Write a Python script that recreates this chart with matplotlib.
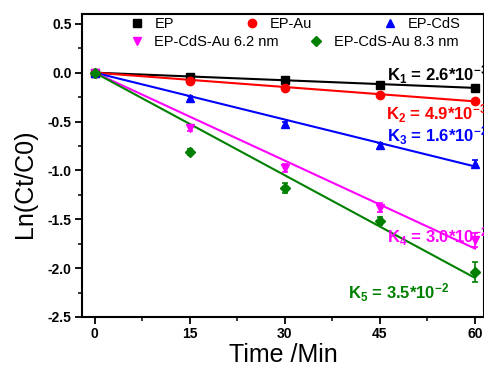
import matplotlib
matplotlib.use('Agg')
import matplotlib.pyplot as plt
from matplotlib.ticker import MultipleLocator

plt.rcParams['font.family'] = ['Liberation Sans', 'DejaVu Sans']
plt.rcParams['mathtext.default'] = 'regular'
plt.rcParams['axes.unicode_minus'] = False

# data
t = [0, 15, 30, 45, 60]
names = ['EP', 'EP-Au', 'EP-CdS', 'EP-CdS-Au 6.2 nm', 'EP-CdS-Au 8.3 nm']
ep = [0, -0.045, -0.08, -0.125, -0.16]
ep_au = [0, -0.085, -0.155, -0.225, -0.29]
ep_cds = [0, -0.255, -0.525, -0.745, -0.935]
cds_au62 = [0, -0.57, -0.975, -1.38, -1.71]
cds_au83 = [0, -0.81, -1.18, -1.52, -2.04]
err_ep = [0.01, 0.01, 0.01, 0.015, 0.015]
err_au = [0.01, 0.015, 0.015, 0.02, 0.02]
err_cds = [0.01, 0.02, 0.02, 0.03, 0.04]
err_62 = [0.01, 0.03, 0.04, 0.05, 0.07]
err_83 = [0.01, 0.03, 0.05, 0.04, 0.10]
# fitted lines (value at 0 and at 60 min)
fit_t = [0, 60]
fit_end = [-0.156, -0.294, -0.96, -1.80, -2.10]
k_labels = ['K$_1$ = 2.6*10$^{-3}$', 'K$_2$ = 4.9*10$^{-3}$', 'K$_3$ = 1.6*10$^{-2}$',
            'K$_4$ = 3.0*10$^{-2}$', 'K$_5$ = 3.5*10$^{-2}$']
k_x = [46.1, 46.0, 46.1, 46.1, 40.0]
k_y = [-0.08, -0.48, -0.71, -1.74, -2.31]

series = [ep, ep_au, ep_cds, cds_au62, cds_au83]
errs = [err_ep, err_au, err_cds, err_62, err_83]
colors = ['black', '#ff0000', '#0000ff', '#ff00ff', '#008000']
markers = ['s', 'o', '^', 'v', 'D']
msizes = [5.5, 6, 6, 6, 5]

fig = plt.figure(figsize=(4.84, 3.70), dpi=100)
ax = fig.add_axes([82 / 484, 1 - 317 / 370, 1 - 82 / 484, (317 - 14) / 370])

handles = []
for i in range(5):
    ax.plot(fit_t, [0, fit_end[i]], color=colors[i], lw=1.5, zorder=2)
    ax.errorbar(t, series[i], yerr=errs[i], fmt='none', ecolor=colors[i],
                elinewidth=1.2, capsize=2.5, capthick=1.2, zorder=3)
    h, = ax.plot(t, series[i], ls='none', marker=markers[i], ms=msizes[i],
                 color=colors[i], label=names[i], zorder=4)
    handles.append(h)
    ax.text(k_x[i], k_y[i], k_labels[i], color=colors[i], fontsize=12,
            fontweight='bold', va='baseline', ha='left', clip_on=False)

ax.set_xlim(-2, 61.42)
ax.set_ylim(-2.5, 0.6)
ax.set_xticks(t)
ax.set_yticks([-2.5, -2.0, -1.5, -1.0, -0.5, 0.0, 0.5])
ax.xaxis.set_minor_locator(MultipleLocator(7.5))
ax.yaxis.set_minor_locator(MultipleLocator(0.25))
ax.tick_params(which='major', direction='out', length=5, width=1.3,
               labelsize=10, pad=2.5, top=False, right=False)
ax.tick_params(which='minor', direction='out', length=3, width=1.1,
               top=False, right=False)
for lab in ax.get_xticklabels() + ax.get_yticklabels():
    lab.set_fontweight('bold')
for s in ax.spines.values():
    s.set_linewidth(1.5)

ax.set_xlabel('Time /Min', fontsize=18, labelpad=1)
ax.set_ylabel('Ln(Ct/C0)', fontsize=18)
ax.yaxis.set_label_coords(-0.112, 0.44)

leg1 = ax.legend(handles=handles[:3], ncol=3, frameon=False, fontsize=10.5,
                 loc='upper left', bbox_to_anchor=(0.104, 1.008),
                 handlelength=1.0, handletextpad=0.7, columnspacing=4.85,
                 borderaxespad=0)
ax.add_artist(leg1)
ax.legend(handles=handles[3:], ncol=2, frameon=False, fontsize=10.5,
          loc='upper left', bbox_to_anchor=(0.104, 0.950),
          handlelength=1.0, handletextpad=0.7, columnspacing=2.05,
          borderaxespad=0)

fig.savefig('out.png', dpi=100)
